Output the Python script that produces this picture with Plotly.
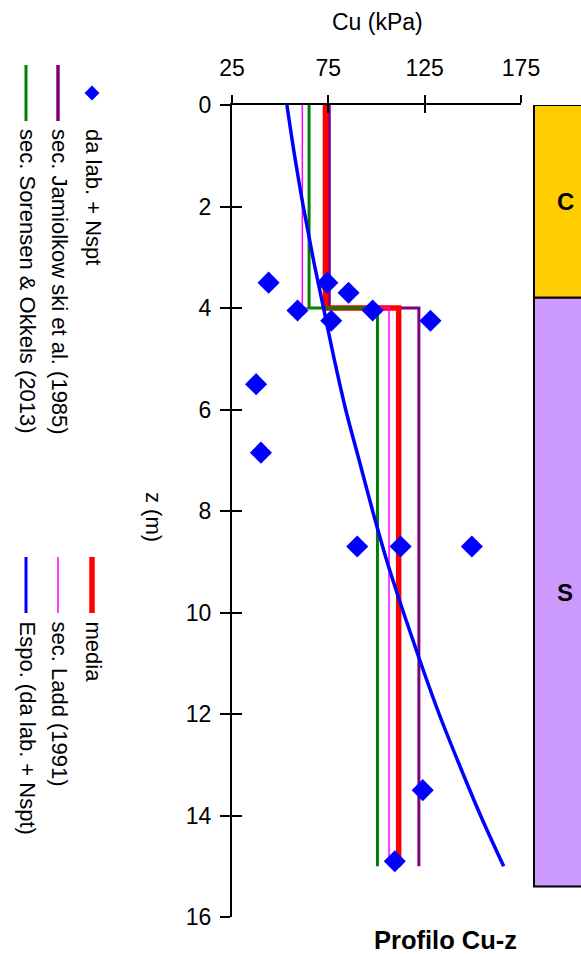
import plotly.graph_objects as go

W, H = 581, 954
FONT = "Arial, Liberation Sans, sans-serif"

# Laboratory + Nspt undrained shear strength
lab_cu = [44, 74.5, 85.5, 59, 98, 76.5, 128, 37.5, 40, 90, 112.5, 149.5, 124, 109.5]
lab_z = [3.5, 3.5, 3.7, 4.05, 4.05, 4.25, 4.25, 5.5, 6.85, 8.7, 8.7, 8.7, 13.5, 14.9]

# Section limits (m) and Cu per section (kPa)
section_z = [0, 4, 15]
media = [73.5, 111.5]
jamiolkowski = [75.5, 122]
ladd = [61.5, 106.5]
sorensen = [65, 100.5]

# Exponential trend of lab + Nspt values
trend_z = [0, 1, 2, 3, 4, 5, 6, 7, 8, 9, 10, 11, 12, 13, 14, 15]
trend_cu = [53.5, 57.5, 62, 67, 72.5, 78, 84, 91, 98, 105.5, 114, 123, 132.5, 143, 154, 166]

# Stratigraphic column
strata_names = ["C", "S"]
strata_top = [0, 3.8]
strata_bottom = [3.8, 15.4]
strata_colors = ["#FFCC00", "#CC99FF"]

x_ticks = [25, 75, 125, 175]
z_ticks = [0, 2, 4, 6, 8, 10, 12, 14, 16]


def px(x):
    return x / W


def py(y):
    return 1 - y / H


def section_steps(values):
    return [values[0], values[1], values[1]], section_z


fig = go.Figure()

for name, vals, color, width in [
    ("sec. Jamiolkowski et al. (1985)", jamiolkowski, "#800080", 3),
    ("media", media, "#FF0000", 5.5),
    ("sec. Ladd (1991)", ladd, "#FF00FF", 1.5),
    ("sec. Sorensen & Okkels (2013)", sorensen, "#008000", 3),
]:
    xs, zs = section_steps(vals)
    fig.add_trace(go.Scatter(x=xs, y=zs, mode="lines", name=name,
                             line=dict(color=color, width=width, shape="vh"),
                             showlegend=False))

fig.add_trace(go.Scatter(x=trend_cu, y=trend_z, mode="lines",
                         name="Espo. (da lab. + Nspt)",
                         line=dict(color="#0000FF", width=3.5, shape="spline"),
                         showlegend=False))

fig.add_trace(go.Scatter(x=lab_cu, y=lab_z, mode="markers", name="da lab. + Nspt",
                         marker=dict(symbol="diamond", size=17, color="#0000FF"),
                         showlegend=False))

# invisible trace to carry the second (tick-only) axes
fig.add_trace(go.Scatter(x=[None], y=[None], xaxis="x2", yaxis="y2",
                         showlegend=False, hoverinfo="skip"))

x_dom = [232 / W, 521 / W]
y_dom = [py(917), py(105)]

axis_common = dict(showgrid=False, zeroline=False, showline=True, automargin=False,
                   linecolor="black", linewidth=2, tickcolor="black", tickwidth=2)

fig.update_layout(
    width=W, height=H,
    margin=dict(l=0, r=0, t=0, b=0),
    paper_bgcolor="white", plot_bgcolor="white",
    font=dict(family=FONT, color="black", size=23),
    xaxis=dict(domain=x_dom, range=[25, 175], side="top", tickvals=x_ticks,
               ticks="outside", ticklen=8, ticklabelstandoff=10,
               tickfont=dict(size=23), **axis_common),
    xaxis2=dict(domain=x_dom, range=[25, 175], side="top", overlaying="x",
                anchor="y", tickvals=x_ticks, ticks="inside", ticklen=8,
                showticklabels=False, **axis_common),
    yaxis=dict(domain=y_dom, range=[16, 0], tickvals=z_ticks,
               ticks="outside", ticklen=10, ticklabelstandoff=4,
               tickfont=dict(size=23), **axis_common),
    yaxis2=dict(domain=y_dom, range=[16, 0], overlaying="y", anchor="x",
                tickvals=z_ticks, ticks="inside", ticklen=10,
                showticklabels=False, **axis_common),
)

shapes = []
annotations = []


def note(x, y, text, size, angle=0, xref="paper", yref="paper", **kw):
    annotations.append(dict(xref=xref, yref=yref, x=x, y=y, text=text,
                            textangle=angle, showarrow=False,
                            xanchor=kw.get("xanchor", "center"),
                            yanchor=kw.get("yanchor", "middle"),
                            font=dict(size=size, family=FONT, color="black")))


# stratigraphic column beside the plot
for name, top, bot, col in zip(strata_names, strata_top, strata_bottom, strata_colors):
    shapes.append(dict(type="rect", xref="paper", yref="y", x0=px(534), x1=px(600),
                       y0=top, y1=bot, fillcolor=col, line=dict(color="black", width=2),
                       layer="above"))
    note(px(565), (top + bot) / 2, f"<b>{name}</b>", 24, yref="y")

# axis titles and chart title
note(px(377), py(22), "Cu (kPa)", 23)
note(px(154), py(517), "z (m)", 22, angle=90)
note(px(445), py(940), "<b>Profilo Cu-z</b>", 25.5)

# vertical legend
legend_items = [
    (92, 65, "marker", "#0000FF", 0, "da lab. + Nspt"),
    (58, 65, "line", "#800080", 3.5, "sec. Jamiolkow ski et al. (1985)"),
    (26, 65, "line", "#008000", 3, "sec. Sorensen & Okkels (2013)"),
    (92, 557, "line", "#FF0000", 5.5, "media"),
    (58, 557, "line", "#FF00FF", 1.5, "sec. Ladd (1991)"),
    (26, 557, "line", "#0000FF", 3, "Espo. (da lab. + Nspt)"),
]
for x, y0, kind, col, wdt, label in legend_items:
    if kind == "line":
        shapes.append(dict(type="line", xref="paper", yref="paper",
                           x0=px(x), x1=px(x), y0=py(y0), y1=py(y0 + 56),
                           line=dict(color=col, width=wdt)))
    else:
        cy, r = y0 + 28, 7.5
        path = (f"M {px(x - r)} {py(cy)} L {px(x)} {py(cy - r)} "
                f"L {px(x + r)} {py(cy)} L {px(x)} {py(cy + r)} Z")
        shapes.append(dict(type="path", xref="paper", yref="paper", path=path,
                           fillcolor=col, line=dict(color=col, width=0)))
    note(px(x + 1), py(y0 + 62), label, 22, angle=90, yanchor="top")

fig.update_layout(shapes=shapes, annotations=annotations)

fig.write_html("out.html")
